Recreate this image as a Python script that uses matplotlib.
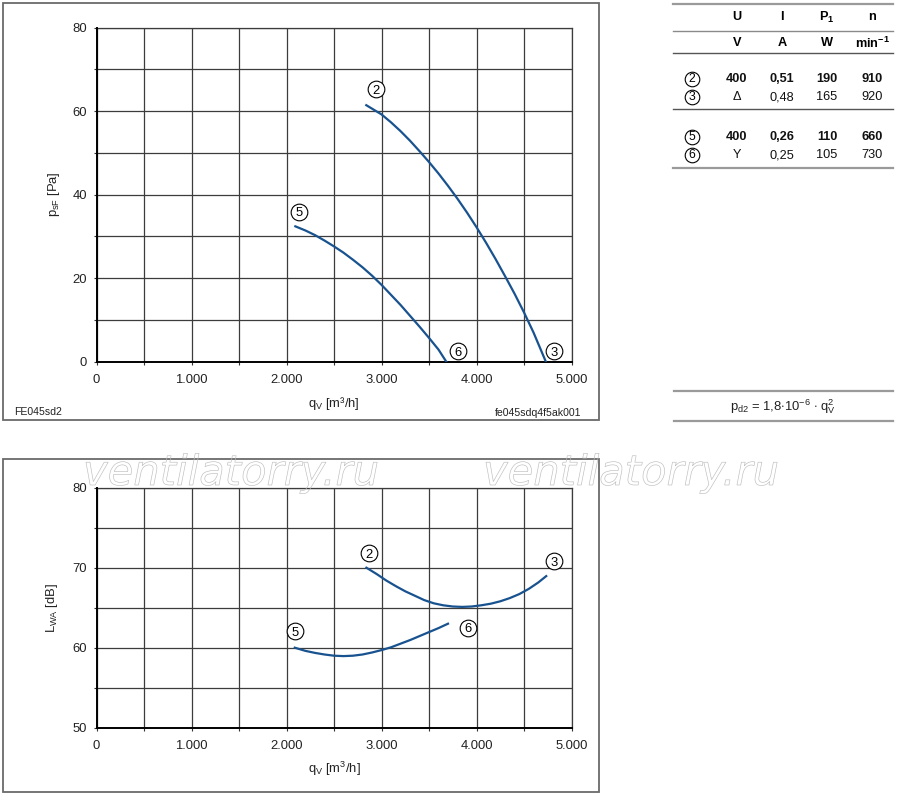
import matplotlib
matplotlib.use("Agg")
import matplotlib.pyplot as plt
import matplotlib.patheffects as pe
from matplotlib.lines import Line2D
from matplotlib.patches import Rectangle
from matplotlib.ticker import MultipleLocator, FixedLocator, FixedFormatter

plt.rcParams['font.family'] = ['Liberation Sans', 'DejaVu Sans']
plt.rcParams['mathtext.fontset'] = 'custom'
plt.rcParams['mathtext.rm'] = 'Liberation Sans'
plt.rcParams['mathtext.it'] = 'Liberation Sans:italic'
plt.rcParams['mathtext.bf'] = 'Liberation Sans:bold'

# ---------------- data ----------------
# pressure curves (qV in m3/h, psF in Pa)
p2_q = [2840, 2920, 3000, 3100, 3200, 3300, 3400, 3500, 3600, 3700, 3800,
        3900, 4000, 4100, 4200, 4300, 4400, 4500, 4600, 4730]
p2_p = [61.4, 60.3, 59.2, 57.3, 55.2, 52.9, 50.4, 47.8, 45.05, 42.1, 39.0,
        35.7, 32.2, 28.5, 24.6, 20.5, 16.3, 11.8, 7.0, 0.0]
p5_q = [2093, 2200, 2300, 2400, 2500, 2600, 2700, 2800, 2900, 3000, 3100,
        3200, 3300, 3400, 3500, 3600, 3682]
p5_p = [32.4, 31.4, 30.3, 29.0, 27.6, 26.1, 24.4, 22.6, 20.6, 18.4, 16.0,
        13.6, 11.0, 8.4, 5.7, 2.9, 0.0]

# sound power curves (qV in m3/h, LWA in dB)
l2_q = [2841, 2950, 3050, 3150, 3250, 3350, 3450, 3550, 3650, 3750, 3850,
        3950, 4050, 4150, 4250, 4350, 4450, 4550, 4650, 4734]
l2_L = [70.0, 69.2, 68.4, 67.7, 67.05, 66.5, 65.95, 65.55, 65.3, 65.15, 65.1,
        65.15, 65.3, 65.5, 65.8, 66.2, 66.7, 67.35, 68.15, 68.95]
l5_q = [2087, 2200, 2300, 2400, 2500, 2600, 2700, 2800, 2900, 3000, 3100,
        3200, 3300, 3400, 3500, 3600, 3700]
l5_L = [60.0, 59.6, 59.35, 59.15, 59.0, 58.95, 59.0, 59.15, 59.4, 59.7, 60.05,
        60.5, 60.95, 61.45, 61.95, 62.45, 63.0]

# curve labels (number, q, value)
p_labels = [('2', 2939, 65.2), ('5', 2133, 35.9), ('6', 3805, 2.55), ('3', 4821, 2.55)]
l_labels = [('2', 2866, 71.8), ('3', 4821, 70.8), ('5', 2087, 62.1), ('6', 3910, 62.5)]

x_ticks = [0, 1000, 2000, 3000, 4000, 5000]
x_ticklabels = ['0', '1.000', '2.000', '3.000', '4.000', '5.000']
p_yticks = [0, 20, 40, 60, 80]
l_yticks = [50, 60, 70, 80]

# table
tab_header = ['U', 'I', r'$\mathbf{P}_{\mathbf{1}}$', 'n']
tab_units = ['V', 'A', 'W', r'$\mathbf{min}^{\mathbf{-1}}$']
tab_rows = [
    ('2', ['400', '0,51', '190', '910'], True),
    ('3', ['\u0394', '0,48', '165', '920'], False),
    ('5', ['400', '0,26', '110', '660'], True),
    ('6', ['Y', '0,25', '105', '730'], False),
]
formula = r'p$_{\rm d2}$ = 1,8$\cdot$10$^{-6}$ $\cdot$ q$_{\rm V}^{2}$'

# ---------------- figure ----------------
W, H = 900, 797
fig = plt.figure(figsize=(9, 7.97), dpi=100)


def fx(x):
    return x / W


def fy(y):
    return 1 - y / H


CURVE = '#18528f'
GRID = '#3c3c3c'


def style_axes(ax, xmin, xmax, ymin, ymax, yticks, yminor):
    ax.set_xlim(xmin, xmax)
    ax.set_ylim(ymin, ymax)
    ax.xaxis.set_major_locator(FixedLocator(x_ticks))
    ax.xaxis.set_major_formatter(FixedFormatter(x_ticklabels))
    ax.xaxis.set_minor_locator(MultipleLocator(500))
    ax.yaxis.set_major_locator(FixedLocator(yticks))
    ax.yaxis.set_minor_locator(MultipleLocator(yminor))
    ax.grid(True, which='both', color=GRID, lw=0.9)
    ax.set_axisbelow(True)
    for s in ['top', 'right']:
        ax.spines[s].set_color(GRID)
        ax.spines[s].set_linewidth(0.9)
    for s in ['left', 'bottom']:
        ax.spines[s].set_color('black')
        ax.spines[s].set_linewidth(1.4)
        ax.spines[s].set_zorder(3)
    ax.tick_params(which='both', direction='out', length=2.5, width=0.8,
                   color='#333333', labelsize=9.4, labelcolor='#222222')
    ax.tick_params(axis='x', which='major', pad=6.5)
    ax.tick_params(axis='y', which='major', pad=4.5)


def circ_label(ax, txt, x, y, ms=12, fs=9.4):
    ax.plot([x], [y], marker='o', ms=ms, mfc='white', mec='black', mew=0.8,
            clip_on=False, zorder=5)
    ax.annotate(txt, (x, y), xytext=(0, -0.358 * fs), textcoords='offset points',
                ha='center', va='baseline', fontsize=fs, color='black', zorder=6,
                annotation_clip=False)


# top chart
ax1 = fig.add_axes([fx(96.5), fy(361.7), (571.5 - 96.5) / W, (361.7 - 27.5) / H])
style_axes(ax1, 0, 5000, 0, 80, p_yticks, 10)
ax1.plot(p2_q, p2_p, color=CURVE, lw=1.6, zorder=4)
ax1.plot(p5_q, p5_p, color=CURVE, lw=1.6, zorder=4)
for t, x, y in p_labels:
    circ_label(ax1, t, x, y)
ax1.set_ylabel(r'p$_{\rm sF}$ [Pa]', fontsize=9.4, color='#222222')
ax1.yaxis.set_label_coords(-0.072, 0.5)
ax1.set_xlabel(r'q$_{\rm V}$ [m³/h]', fontsize=9.4, color='#222222')
ax1.xaxis.set_label_coords(0.5, -0.1)

# bottom chart
ax2 = fig.add_axes([fx(96.5), fy(727.7), 475 / W, 240 / H])
style_axes(ax2, 0, 5000, 50, 80, l_yticks, 5)
ax2.plot(l2_q, l2_L, color=CURVE, lw=1.6, zorder=4)
ax2.plot(l5_q, l5_L, color=CURVE, lw=1.6, zorder=4)
for t, x, y in l_labels:
    circ_label(ax2, t, x, y)
ax2.set_ylabel(r'L$_{\rm WA}$ [dB]', fontsize=9.4, color='#222222')
ax2.yaxis.set_label_coords(-0.076, 0.5)
ax2.set_xlabel(r'q$_{\rm V}$ [m$^3$/h]', fontsize=9.4, color='#222222')
ax2.xaxis.set_label_coords(0.5, -0.135)

# frames
for (x0, y0, x1, y1) in [(3, 3, 599, 420), (3, 459, 599, 792)]:
    fig.add_artist(Rectangle((fx(x0), fy(y1)), (x1 - x0) / W, (y1 - y0) / H,
                             transform=fig.transFigure, fill=False,
                             ec='#6a6a6a', lw=1.3))

fig.text(fx(14), fy(412), 'FE045sd2', fontsize=7.6, va='center', ha='left', color='#222222')
fig.text(fx(581), fy(413), 'fe045sdq4f5ak001', fontsize=7.6, va='center', ha='right', color='#222222')


# table
def hline(y, x0, x1, color, lw):
    fig.add_artist(Line2D([fx(x0), fx(x1)], [fy(y), fy(y)], transform=fig.transFigure,
                          color=color, lw=lw))


hline(4, 673, 893, '#9a9a9a', 1.6)
hline(31, 673, 893, '#8a8a8a', 1.0)
hline(52.7, 673, 893, '#555555', 1.0)
hline(109, 673, 893, '#555555', 1.0)
hline(168, 673, 893, '#9a9a9a', 1.6)

col_x = [737, 782, 827, 872]
TFS = 9.2
for cx, h in zip(col_x, tab_header):
    fig.text(fx(cx), fy(17), h, fontsize=TFS, fontweight='bold', ha='center', va='center')
for cx, u in zip(col_x, tab_units):
    fig.text(fx(cx), fy(43), u, fontsize=TFS, fontweight='bold', ha='center', va='center')
row_y = [79, 97, 137, 155]
for (num, vals, bold), ry in zip(tab_rows, row_y):
    fig.add_artist(Line2D([fx(692)], [fy(ry)], transform=fig.transFigure, marker='o',
                          ms=10.5, mfc='white', mec='black', mew=0.8, ls='none'))
    fig.text(fx(692), fy(ry + 0.5), num, fontsize=TFS - 0.4, ha='center', va='center')
    for cx, v in zip(col_x, vals):
        fig.text(fx(cx), fy(ry), v, fontsize=TFS, ha='center', va='center',
                 fontweight='bold' if bold else 'normal', color='#111111')

hline(391, 674, 893, '#9a9a9a', 1.6)
hline(421, 674, 893, '#9a9a9a', 1.6)
fig.text(fx(783), fy(407), formula, fontsize=9.4, ha='center', va='center', color='#222222')

# watermark
for wx in [83, 483]:
    fig.text(fx(wx), fy(485), 'ventilatorry.ru', fontsize=30, family='DejaVu Sans',
             style='oblique', color='none', ha='left', va='baseline', zorder=20,
             path_effects=[pe.Stroke(linewidth=0.45, foreground='#bdbdbd')])

fig.savefig('out.png', dpi=100)
